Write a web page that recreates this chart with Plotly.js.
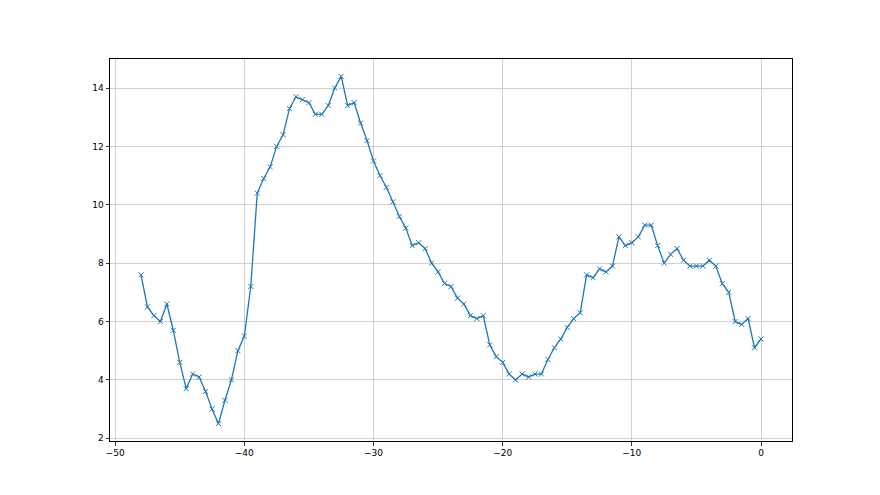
<!DOCTYPE html>
<html>
<head>
<meta charset="utf-8">
<script src="https://cdn.plot.ly/plotly-3.0.1.min.js"></script>
<style>html,body{margin:0;padding:0;background:#fff;}#chart{width:880px;height:495px;}</style>
</head>
<body>
<div id="chart"></div>
<script>
const xStart = -48;
const xStep = 0.5;
const values = [
  7.6, 6.5, 6.2, 6.0, 6.6, 5.7, 4.6, 3.7, 4.2, 4.1,
  3.6, 3.0, 2.5, 3.3, 4.0, 5.0, 5.5, 7.2, 10.4, 10.9,
  11.3, 12.0, 12.4, 13.3, 13.7, 13.6, 13.5, 13.1, 13.1, 13.4,
  14.0, 14.4, 13.4, 13.5, 12.8, 12.2, 11.5, 11.0, 10.6, 10.1,
  9.6, 9.2, 8.6, 8.7, 8.5, 8.0, 7.7, 7.3, 7.2, 6.8,
  6.6, 6.2, 6.1, 6.2, 5.2, 4.8, 4.6, 4.2, 4.0, 4.2,
  4.1, 4.2, 4.2, 4.7, 5.1, 5.4, 5.8, 6.1, 6.3, 7.6,
  7.5, 7.8, 7.7, 7.9, 8.9, 8.6, 8.7, 8.9, 9.3, 9.3,
  8.6, 8.0, 8.3, 8.5, 8.1, 7.9, 7.9, 7.9, 8.1, 7.9,
  7.3, 7.0, 6.0, 5.9, 6.1, 5.1, 5.4
];
const xs = values.map((_, i) => xStart + i * xStep);
const xTicks = [-50, -40, -30, -20, -10, 0];
const yTicks = [2, 4, 6, 8, 10, 12, 14];

const axisCommon = {
  showline: true, mirror: true, linecolor: '#000', linewidth: 1,
  ticks: 'outside', ticklen: 3.5, tickwidth: 0.8, tickcolor: '#000',
  showgrid: true, gridcolor: '#c4c4c4', gridwidth: 0.8,
  zeroline: false,
  tickfont: {family: 'DejaVu Sans', size: 9, color: '#000'}
};

Plotly.newPlot('chart', [{
  x: xs, y: values, type: 'scatter', mode: 'lines+markers',
  line: {color: '#1f77b4', width: 1.3},
  marker: {symbol: 'x-thin', size: 5, color: '#1f77b4', line: {color: '#1f77b4', width: 1}}
}], {
  width: 880, height: 495,
  margin: {l: 110, r: 88, t: 59, b: 54},
  paper_bgcolor: '#fff', plot_bgcolor: '#fff',
  showlegend: false,
  xaxis: Object.assign({}, axisCommon, {range: [-50.4, 2.4], tickvals: xTicks}),
  yaxis: Object.assign({}, axisCommon, {range: [1.905, 14.995], tickvals: yTicks})
}, {displayModeBar: false, staticPlot: true});
</script>
</body>
</html>
